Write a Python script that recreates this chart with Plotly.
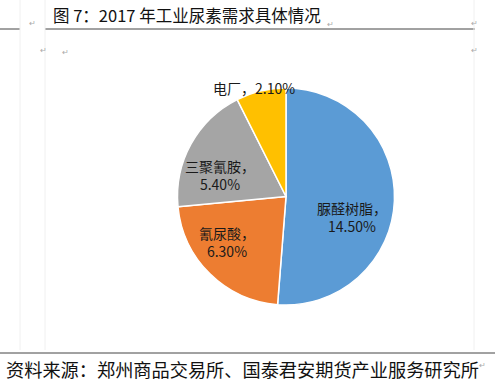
import plotly.graph_objects as go

labels = ["脲醛树脂", "氰尿酸", "三聚氰胺", "电厂"]
values = [14.5, 6.3, 5.4, 2.1]
value_text = ["14.50%", "6.30%", "5.40%", "2.10%"]
colors = ["#5B9BD5", "#ED7D31", "#A5A5A5", "#FFC000"]
title_text = "图 7：2017 年工业尿素需求具体情况"
source_text = "资料来源：郑州商品交易所、国泰君安期货产业服务研究所"

W, H = 495, 385
cjk = "Noto Sans CJK SC, Liberation Sans, sans-serif"

# label placement (pixels from top-left) and line break style per slice
label_pos = [(352, 217), (227, 242), (220, 175), (254, 88)]
label_sep = ["，<br>", "，<br>", "，<br>", "，"]

fig = go.Figure(go.Pie(
    labels=labels, values=values, text=value_text,
    sort=False, direction="clockwise", rotation=0,
    marker=dict(colors=colors, line=dict(color="white", width=1.5)),
    textinfo="none",
    hoverinfo="label+text",
    domain=dict(x=[177 / W, 395 / W], y=[80 / H, 297 / H]),
    showlegend=False,
))

ann = [
    dict(text=title_text, x=51 / W, y=1 - 15 / H, xanchor="left", yanchor="middle",
         font=dict(family=cjk, size=16.5, color="#111111")),
    dict(text=source_text, x=4 / W, y=1 - 369 / H, xanchor="left", yanchor="middle",
         font=dict(family=cjk, size=18.2, color="#111111")),
]
for lab, val, (px, py), sep in zip(labels, value_text, label_pos, label_sep):
    ann.append(dict(text=lab + sep + val, x=px / W, y=1 - py / H,
                    xanchor="center", yanchor="middle", align="center",
                    font=dict(family=cjk, size=14, color="#1a1a1a")))
for a in ann:
    a.update(xref="paper", yref="paper", showarrow=False)

ret_marks = [(27, 15), (336, 16), (480, 15), (38, 42), (60, 44), (480, 42), (488, 372)]
for (x, y) in ret_marks:
    ann.append(dict(text="↵", x=x / W, y=1 - y / H, xref="paper", yref="paper",
                    showarrow=False, font=dict(size=8, color="#aaaaaa")))

shapes = [
    dict(type="line", x0=45, x1=475, y0=H - 29, y1=H - 29, line=dict(color="#444444", width=1)),
    dict(type="line", x0=0, x1=20, y0=H - 29, y1=H - 29, line=dict(color="#444444", width=1)),
    dict(type="line", x0=0, x1=W, y0=H - 353, y1=H - 353, line=dict(color="#444444", width=1)),
    dict(type="line", x0=20, x1=20, y0=H - 350, y1=H, line=dict(color="#f0f0f0", width=1)),
    dict(type="line", x0=45, x1=45, y0=H - 350, y1=H, line=dict(color="#f0f0f0", width=1)),
    dict(type="line", x0=474, x1=474, y0=H - 350, y1=H, line=dict(color="#f0f0f0", width=1)),
]
for s in shapes:
    s.update(xref="x", yref="y", layer="below")

fig.update_layout(
    width=W, height=H, margin=dict(l=0, r=0, t=0, b=0),
    paper_bgcolor="white", plot_bgcolor="white",
    annotations=ann, shapes=shapes,
    xaxis=dict(range=[0, W], visible=False, fixedrange=True),
    yaxis=dict(range=[0, H], visible=False, fixedrange=True),
)
fig.write_html("out.html", config={"displayModeBar": False},
               post_script="document.body.style.margin='0';document.body.style.overflow='hidden';")
